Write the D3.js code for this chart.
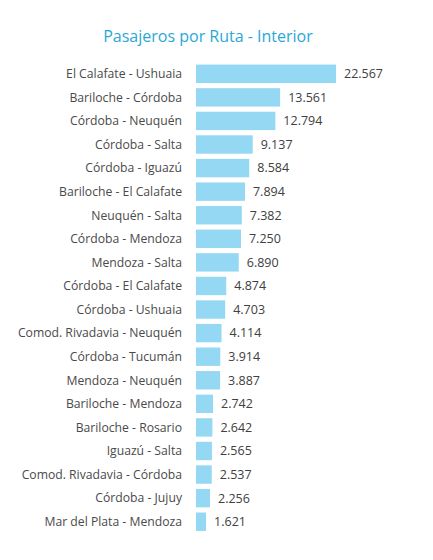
<!DOCTYPE html>
<html><head><meta charset="utf-8">
<script src="https://cdn.jsdelivr.net/npm/d3@7"></script>
<style>body{margin:0;background:#fff}svg{display:block}</style>
</head><body>
<script>
const categories = ["El Calafate - Ushuaia","Bariloche - Córdoba","Córdoba - Neuquén","Córdoba - Salta","Córdoba - Iguazú","Bariloche - El Calafate","Neuquén - Salta","Córdoba - Mendoza","Mendoza - Salta","Córdoba - El Calafate","Córdoba - Ushuaia","Comod. Rivadavia - Neuquén","Córdoba - Tucumán","Mendoza - Neuquén","Bariloche - Mendoza","Bariloche - Rosario","Iguazú - Salta","Comod. Rivadavia - Córdoba","Córdoba - Jujuy","Mar del Plata - Mendoza"];
const values = [22567,13561,12794,9137,8584,7894,7382,7250,6890,4874,4703,4114,3914,3887,2742,2642,2565,2537,2256,1621];
const title = "Pasajeros por Ruta - Interior";

const W = 433, H = 560;
const svg = d3.select("body").append("svg").attr("width", W).attr("height", H);
const x0 = 196;
const x = d3.scaleLinear().domain([0, 22567]).range([x0, 336]);
const y = d3.scaleBand().domain(categories).range([62, 533.5]).paddingInner(0.22).paddingOuter(0.11);

svg.append("text").attr("x", 208).attr("y", 42).attr("text-anchor", "middle")
  .attr("font-family", "'Open Sans', sans-serif").attr("font-size", 16).attr("fill", "#2aa8d6")
  .text(title);

svg.selectAll("rect.bar").data(values).join("rect").attr("class","bar")
  .attr("x", x0).attr("y", (d,i)=>y(categories[i]))
  .attr("width", d=>x(d)-x0).attr("height", y.bandwidth())
  .attr("fill", "#94d8f4");

svg.selectAll("text.lab").data(categories).join("text").attr("class","lab")
  .attr("x", 182).attr("y", d=>y(d)+y.bandwidth()/2).attr("dy","0.35em")
  .attr("text-anchor","end").attr("font-family","'Open Sans', sans-serif").attr("font-size", 12.2)
  .attr("fill","#4a4a4a").text(d=>d);

const fmt = d3.formatLocale({decimal:",", thousands:".", grouping:[3], currency:["$",""]}).format(",");
svg.selectAll("text.val").data(values).join("text").attr("class","val")
  .attr("x", d=>x(d)+8).attr("y", (d,i)=>y(categories[i])+y.bandwidth()/2).attr("dy","0.35em")
  .attr("font-family","'Open Sans', sans-serif").attr("font-size", 12.5)
  .attr("fill","#404040").text(d=>fmt(d));
</script>
</body></html>
